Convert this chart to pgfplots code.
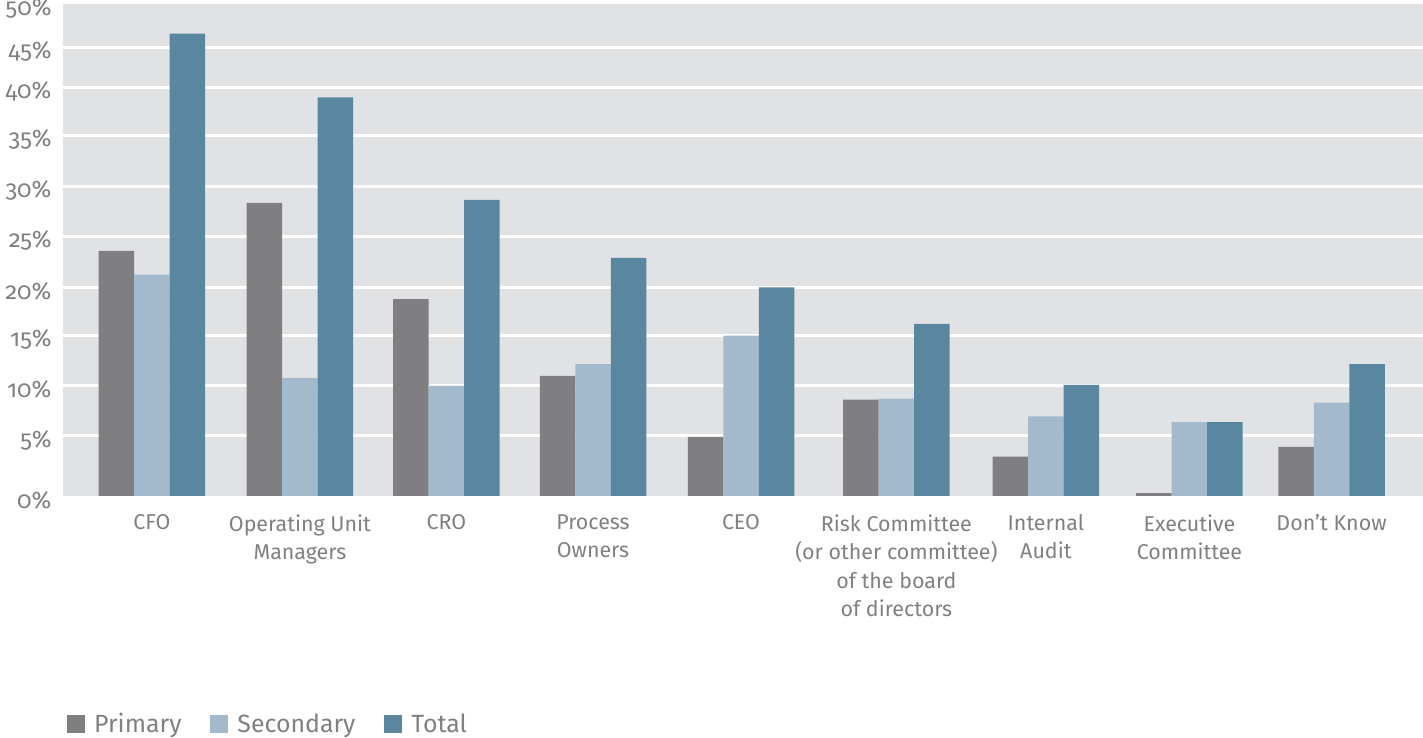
\documentclass[border=0pt]{standalone}
\usepackage{fontspec}
\setmainfont{Fira Sans}[Numbers=OldStyle]
\usepackage{pgfplots}
\pgfplotsset{compat=1.18}
\definecolor{cPri}{RGB}{127,127,129}
\definecolor{cSec}{RGB}{163,186,205}
\definecolor{cTot}{RGB}{90,135,160}
\definecolor{cBg}{RGB}{225,226,228}
\definecolor{cTxt}{RGB}{128,128,128}
\begin{document}
\begin{tikzpicture}
\begin{axis}[
  name=ax,
  scale only axis,
  width=1360bp, height=492bp,
  xmin=-0.601, xmax=8.588,
  ymin=0, ymax=50,
  axis line style={draw=none},
  axis background/.style={fill=cBg},
  ybar,
  bar width=35.5bp,
  xtick={0,1,1.99,2.98,3.98,5.03,6.04,7.01,7.97},
  xticklabels={CFO, Operating Unit\\Managers, CRO, Process\\Owners, CEO, Risk Committee\\(or other committee)\\of the board\\of directors, Internal\\Audit, Executive\\Committee, Don’t Know},
  xticklabel style={align=center, font=\fontsize{21.5}{28.5}\selectfont, text=cTxt, anchor=north, yshift=-15bp},
  ytick={0,6.1,11.2,16.3,21.2,26.4,31.5,36.6,41.5,45.6,50},
  yticklabels={0\%,5\%,10\%,15\%,20\%,25\%,30\%,35\%,40\%,45\%,50\%},
  yticklabel style={font=\fontsize{24}{26}\selectfont, text=cTxt, yshift=-4bp, xshift=-8bp},
  major tick length=0pt,
  extra y ticks={6.1,11.2,16.3,21.2,26.4,31.5,36.6,41.5,45.6},
  extra y tick labels={},
  extra y tick style={ymajorgrids=true, major grid style={white, line width=3bp}},
  legend image code/.code={\fill[#1] (0bp,-9bp) rectangle (18bp,9bp); \path (25bp,0bp);},
  legend style={draw=none, fill=none, at={(0.0029,-0.4634)}, anchor=west,
    legend columns=3, inner sep=0pt, font=\fontsize{25}{28}\selectfont, text=cTxt,
    /tikz/every even column/.append style={column sep=27bp}},
  legend cell align=left,
]
\addplot[fill=cPri, draw=none, bar shift=-35.5bp] coordinates {
  (0,24.9) (1,29.8) (1.99,20.0) (2.98,12.2) (3.98,6.0) (5.03,9.8) (6.04,4.0) (7.01,0.3) (7.97,5.0)};
\addplot[fill=cSec, draw=none, bar shift=0bp] coordinates {
  (0,22.5) (1,12.0) (1.99,11.2) (2.98,13.4) (3.98,16.3) (5.03,9.9) (6.04,8.1) (7.01,7.5) (7.97,9.5)};
\addplot[fill=cTot, draw=none, bar shift=35.5bp] coordinates {
  (0,47.0) (1,40.5) (1.99,30.1) (2.98,24.2) (3.98,21.2) (5.03,17.5) (6.04,11.3) (7.01,7.5) (7.97,13.4)};
\legend{Primary, Secondary, Total}
\end{axis}
\pgfresetboundingbox
\path[use as bounding box] ([xshift=-63bp,yshift=4bp]ax.north west) rectangle ([yshift=-242bp]ax.south east);
\end{tikzpicture}
\end{document}
